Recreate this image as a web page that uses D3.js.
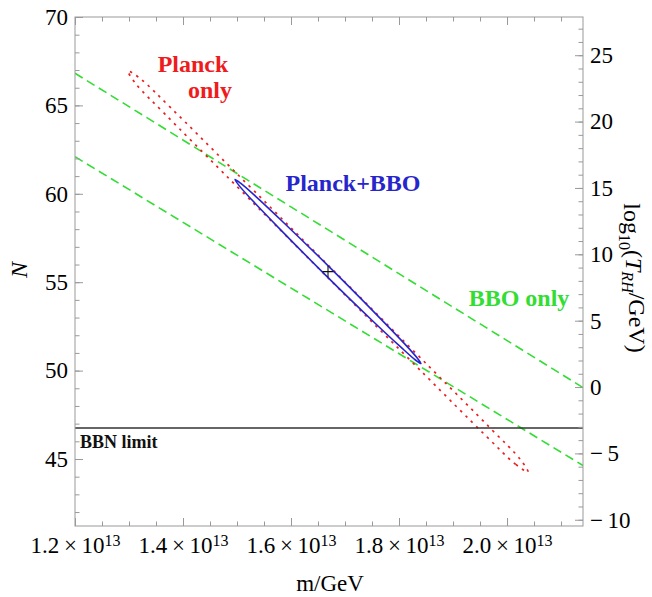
<!DOCTYPE html>
<html>
<head>
<meta charset="utf-8">
<script src="https://d3js.org/d3.v7.min.js"></script>
<style>
  body { margin: 0; background: #fff; }
  text { font-family: "Liberation Serif", "DejaVu Serif", serif; }
</style>
</head>
<body>
<script>
// m in units of 10^13 GeV, N = e-folds
var mTicks = [1.2, 1.4, 1.6, 1.8, 2.0];
var nTicks = [45, 50, 55, 60, 65, 70];
var tTicks = [-10, -5, 0, 5, 10, 15, 20, 25];

// BBO only: two dashed bounds
var bboM = [1.2, 2.1407];
var bboUpperN = [66.82, 49.04];
var bboLowerN = [62.10, 44.63];

// Planck only contour
var planckM = [2.0389, 2.0160, 1.9592, 1.8478, 1.6626, 1.4774, 1.3666, 1.3122,
               1.2981, 1.3211, 1.3778, 1.4892, 1.6744, 1.8596, 1.9704, 2.0248];
var planckN = [44.26, 44.70, 46.36, 49.76, 55.43, 61.10, 64.51, 66.24,
               66.95, 66.51, 64.85, 61.46, 55.79, 50.11, 46.70, 44.97];

// Planck+BBO contour
var bothM = [1.8407, 1.8304, 1.8030, 1.7499, 1.6630, 1.5777, 1.5274, 1.5032,
             1.4963, 1.5066, 1.5340, 1.5871, 1.6740, 1.7593, 1.8096, 1.8338];
var bothN = [50.40, 50.60, 51.34, 52.85, 55.43, 58.06, 59.66, 60.49,
             60.81, 60.60, 59.87, 58.35, 55.77, 53.14, 51.54, 50.71];

var bestFit = [1.6685, 55.60];
var bbnN = 46.75;

var W = 652, H = 597;
var padL = 75, padR = 583, padT = 17, padB = 526;

var x = d3.scaleLinear().domain([1.2, 2.1407]).range([padL, padR]);
var y = d3.scaleLinear().domain([70, 41.21]).range([padT, padB]);
var t = d3.scaleLinear().domain([27.88, -10.47]).range([padT, padB]);

var svg = d3.select("body").append("svg")
    .attr("width", W)
    .attr("height", H);

svg.append("defs").append("clipPath").attr("id", "plot")
    .append("rect")
    .attr("x", padL).attr("y", padT)
    .attr("width", padR - padL).attr("height", padB - padT);

var plot = svg.append("g").attr("clip-path", "url(#plot)");

var line = d3.line()
    .x(function (d) { return x(d[0]); })
    .y(function (d) { return y(d[1]); });

var contour = d3.line()
    .x(function (d) { return x(d[0]); })
    .y(function (d) { return y(d[1]); })
    .curve(d3.curveCatmullRomClosed.alpha(0.5));

// green dashed BBO bounds
[bboUpperN, bboLowerN].forEach(function (ns) {
    plot.append("path")
        .attr("d", line(bboM.map(function (m, i) { return [m, ns[i]]; })))
        .attr("fill", "none")
        .attr("stroke", "#33dd33")
        .attr("stroke-width", 1.6)
        .attr("stroke-dasharray", "9,5");
});

// red dotted Planck contour
plot.append("path")
    .attr("d", contour(planckM.map(function (m, i) { return [m, planckN[i]]; })))
    .attr("fill", "none")
    .attr("stroke", "#ee1c1c")
    .attr("stroke-width", 1.7)
    .attr("stroke-dasharray", "2.5,5");

// blue Planck+BBO contour
plot.append("path")
    .attr("d", contour(bothM.map(function (m, i) { return [m, bothN[i]]; })))
    .attr("fill", "none")
    .attr("stroke", "#2626cc")
    .attr("stroke-width", 1.6);

// best fit cross
var cx = x(bestFit[0]), cy = y(bestFit[1]);
plot.append("path")
    .attr("d", "M" + (cx - 5.5) + "," + cy + "H" + (cx + 5.5) + "M" + cx + "," + (cy - 5.5) + "V" + (cy + 5.5))
    .attr("stroke", "#111")
    .attr("stroke-width", 1.1);

// BBN limit
plot.append("line")
    .attr("x1", x(1.2)).attr("x2", x(2.1407))
    .attr("y1", y(bbnN)).attr("y2", y(bbnN))
    .attr("stroke", "#333")
    .attr("stroke-width", 1.4);

// frame
svg.append("rect")
    .attr("x", padL).attr("y", padT)
    .attr("width", padR - padL).attr("height", padB - padT)
    .attr("fill", "none")
    .attr("stroke", "#999")
    .attr("stroke-width", 1);

function styleAxis(g) {
    g.select(".domain").remove();
    g.selectAll(".tick line").attr("stroke", "#999");
    g.selectAll(".tick text").attr("fill", "#000").attr("font-size", "23px")
        .attr("font-family", "Liberation Serif");
}

var xMinor = d3.range(24, 43).map(function (k) { return k * 0.05; });
var yMinor = d3.range(42, 71);
var tMinor = d3.range(-10, 28);

// bottom
svg.append("g").attr("transform", "translate(0," + padB + ")")
    .call(d3.axisBottom(x).tickValues(xMinor).tickSize(-4.5).tickFormat(""))
    .call(styleAxis);
svg.append("g").attr("transform", "translate(0," + padB + ")")
    .call(d3.axisBottom(x).tickValues(mTicks).tickSize(-8).tickPadding(11)
        .tickFormat(""))
    .call(styleAxis)
    .selectAll(".tick text")
    .each(function (d) {
        var s = d3.select(this);
        s.append("tspan").text(d.toFixed(1) + "\u2009\u00d7\u200910");
        s.append("tspan").attr("dy", "-0.45em").attr("font-size", "16px").text("13");
    });

// top (ticks only)
svg.append("g").attr("transform", "translate(0," + padT + ")")
    .call(d3.axisTop(x).tickValues(xMinor).tickSize(-4.5).tickFormat(""))
    .call(styleAxis);
svg.append("g").attr("transform", "translate(0," + padT + ")")
    .call(d3.axisTop(x).tickValues(mTicks).tickSize(-8).tickFormat(""))
    .call(styleAxis);

// left
svg.append("g").attr("transform", "translate(" + padL + ",0)")
    .call(d3.axisLeft(y).tickValues(yMinor).tickSize(-4.5).tickFormat(""))
    .call(styleAxis);
svg.append("g").attr("transform", "translate(" + padL + ",0)")
    .call(d3.axisLeft(y).tickValues(nTicks).tickSize(-8).tickPadding(7))
    .call(styleAxis);

// right
svg.append("g").attr("transform", "translate(" + padR + ",0)")
    .call(d3.axisRight(t).tickValues(tMinor).tickSize(-4.5).tickFormat(""))
    .call(styleAxis);
svg.append("g").attr("transform", "translate(" + padR + ",0)")
    .call(d3.axisRight(t).tickValues(tTicks).tickSize(-8).tickPadding(7)
        .tickFormat(function (d) { return d < 0 ? "\u2212\u2009" + (-d) : d; }))
    .call(styleAxis);

// axis titles
svg.append("text")
    .attr("transform", "translate(27,270) rotate(-90)")
    .attr("text-anchor", "middle")
    .attr("font-size", "24px")
    .attr("font-style", "italic")
    .text("N");

svg.append("text")
    .attr("x", 330).attr("y", 591)
    .attr("text-anchor", "middle")
    .attr("font-size", "23px")
    .text("m/GeV");

var rl = svg.append("text")
    .attr("transform", "translate(624,278) rotate(90)")
    .attr("text-anchor", "middle")
    .attr("font-size", "24px");
rl.append("tspan").text("log");
rl.append("tspan").attr("font-size", "16px").attr("dy", "0.3em").text("10");
rl.append("tspan").attr("dy", "-0.3em").text("(");
rl.append("tspan").attr("font-style", "italic").text("T");
rl.append("tspan").attr("font-style", "italic").attr("font-size", "16px").attr("dy", "0.3em").text("RH");
rl.append("tspan").attr("dy", "-0.3em").text("/GeV)");

// annotations
function note(txt, px, py, color, size, anchor) {
    svg.append("text")
        .attr("x", px).attr("y", py)
        .attr("text-anchor", anchor || "middle")
        .attr("font-size", size + "px")
        .attr("font-weight", "bold")
        .attr("fill", color)
        .text(txt);
}
note("Planck", 193, 72, "#ee1c1c", 24);
note("only", 232, 98, "#ee1c1c", 24, "end");
note("Planck+BBO", 353, 191, "#2626cc", 24);
note("BBO only", 519, 306, "#33dd33", 24);
note("BBN limit", 80, 448, "#111", 18, "start");
</script>
</body>
</html>
